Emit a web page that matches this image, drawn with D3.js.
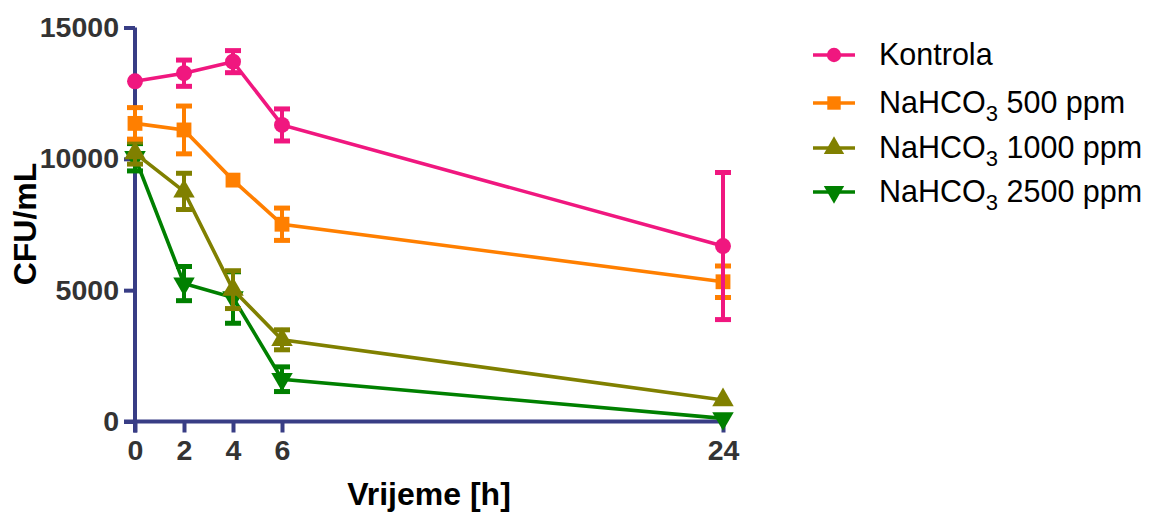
<!DOCTYPE html>
<html><head><meta charset="utf-8">
<script src="https://cdn.jsdelivr.net/npm/d3@7"></script>
<style>html,body{margin:0;padding:0;background:#fff;}svg{display:block;font-family:"Liberation Sans",Arial,sans-serif;}</style>
</head><body><svg id="c" width="1159" height="515"></svg>
<script>
const hours = [0, 2, 4, 6, 24];
const xTicks = [0, 2, 4, 6, 24];
const yTicks = [0, 5000, 10000, 15000];
const seriesNames = ["Kontrola", "NaHCO3 500 ppm", "NaHCO3 1000 ppm", "NaHCO3 2500 ppm"];
const kontrola = [12950, 13260, 13700, 11290, 6680];
const kontrolaErr = [0, 500, 420, 610, 2800];
const na500 = [11350, 11100, 9190, 7510, 5320];
const na500Err = [600, 910, 0, 615, 600];
const na1000 = [10220, 8760, 5020, 3110, 820];
const na1000Err = [420, 690, 720, 380, 0];
const na2500 = [10060, 5250, 4720, 1610, 120];
const na2500Err = [520, 650, 980, 470, 0];
const colors = ["#f0177f", "#ff7f00", "#808000", "#008000"];
const shapes = ["circle", "square", "triangle", "triangleDown"];

const series = [
  {name: seriesNames[0], vals: kontrola, err: kontrolaErr, color: colors[0], shape: shapes[0]},
  {name: seriesNames[1], vals: na500, err: na500Err, color: colors[1], shape: shapes[1]},
  {name: seriesNames[2], vals: na1000, err: na1000Err, color: colors[2], shape: shapes[2]},
  {name: seriesNames[3], vals: na2500, err: na2500Err, color: colors[3], shape: shapes[3]}
];

const svg = d3.select("#c");
const x = d3.scaleLinear().domain([0, 24]).range([135, 723]);
const y = d3.scaleLinear().domain([0, 15000]).range([421.5, 27.5]);
const axisColor = "#383d85";
const tickColor = "#333333";

function symbolPath(shape, size) {
  const t = {circle: d3.symbolCircle, square: d3.symbolSquare, triangle: d3.symbolTriangle, triangleDown: d3.symbolTriangle}[shape];
  return d3.symbol().type(t).size(size)();
}
function markerSize(shape){ return shape === "circle" ? 200 : shape === "square" ? 220 : 200; }

// axes
const yAxis = d3.axisLeft(y).tickValues(yTicks).tickSize(11).tickPadding(5).tickFormat(d3.format("d"));
const gy = svg.append("g").attr("transform", "translate(135,0)").call(yAxis);
gy.select(".domain").attr("d", `M0,${y(15000)}V${421.5+11}`).attr("stroke", axisColor).attr("stroke-width", 4);
gy.selectAll(".tick line").attr("stroke", axisColor).attr("stroke-width", 4);
gy.selectAll(".tick text").attr("fill", tickColor).attr("font-size", 28.5).attr("font-weight", "bold").attr("font-family", "Liberation Sans, Arial, sans-serif");

const xAxis = d3.axisBottom(x).tickValues(xTicks).tickSize(11).tickPadding(7).tickFormat(d3.format("d"));
const gx = svg.append("g").attr("transform", "translate(0,421.5)").call(xAxis);
gx.select(".domain").attr("d", `M124,0H${x(24)+2}`).attr("stroke", axisColor).attr("stroke-width", 4);
gx.selectAll(".tick line").attr("stroke", axisColor).attr("stroke-width", 4);
gx.selectAll(".tick text").attr("fill", tickColor).attr("font-size", 28.5).attr("font-weight", "bold").attr("font-family", "Liberation Sans, Arial, sans-serif");

// axis titles
svg.append("text").attr("x", 429).attr("y", 505).attr("text-anchor", "middle")
  .attr("font-size", 32).attr("font-weight", "bold").attr("fill", "#000").text("Vrijeme [h]");
svg.append("text").attr("transform", "translate(36,224) rotate(-90)").attr("text-anchor", "middle")
  .attr("font-size", 32).attr("font-weight", "bold").attr("fill", "#000").text("CFU/mL");

// series (draw last series first so Kontrola is on top)
const line = d3.line().x(d => x(d[0])).y(d => y(d[1]));
const plot = svg.append("g");
series.slice().reverse().forEach(s => {
  const g = plot.append("g");
  const pts = hours.map((h, i) => [h, s.vals[i], s.err[i]]);
  g.append("path").attr("d", line(pts)).attr("fill", "none").attr("stroke", s.color).attr("stroke-width", 3.6);
  pts.forEach(p => {
    if (p[2] > 0) {
      const cx = x(p[0]), y1 = y(p[1] + p[2]), y2 = y(p[1] - p[2]);
      g.append("line").attr("x1", cx).attr("x2", cx).attr("y1", y1).attr("y2", y2).attr("stroke", s.color).attr("stroke-width", 4);
      [y1, y2].forEach(yy => g.append("line").attr("x1", cx - 8).attr("x2", cx + 8).attr("y1", yy).attr("y2", yy).attr("stroke", s.color).attr("stroke-width", 5));
    }
    const rot = s.shape === "triangleDown" ? 180 : 0;
    g.append("path").attr("d", symbolPath(s.shape, markerSize(s.shape)))
      .attr("transform", `translate(${x(p[0])},${y(p[1])}) rotate(${rot})`).attr("fill", s.color);
  });
});

// legend
const legY = [55, 103, 148, 192];
const legend = svg.append("g");
series.forEach((s, i) => {
  const g = legend.append("g").attr("transform", `translate(0,${legY[i]})`);
  g.append("line").attr("x1", 813).attr("x2", 855).attr("y1", 0).attr("y2", 0).attr("stroke", s.color).attr("stroke-width", 3.6);
  const rot = s.shape === "triangleDown" ? 180 : 0;
  g.append("path").attr("d", symbolPath(s.shape, s.shape === "circle" ? 160 : 180))
    .attr("transform", `translate(834,0) rotate(${rot})`).attr("fill", s.color);
  const t = g.append("text").attr("x", 879).attr("y", 10).attr("font-size", 30.5).attr("fill", "#000");
  const m = s.name.match(/^(NaHCO)3(.*)$/);
  if (m) {
    t.append("tspan").text(m[1]);
    t.append("tspan").attr("font-size", 22).attr("dy", 8).text("3");
    t.append("tspan").attr("dy", -8).text(m[2]);
  } else {
    t.text(s.name);
  }
});
</script></body></html>
